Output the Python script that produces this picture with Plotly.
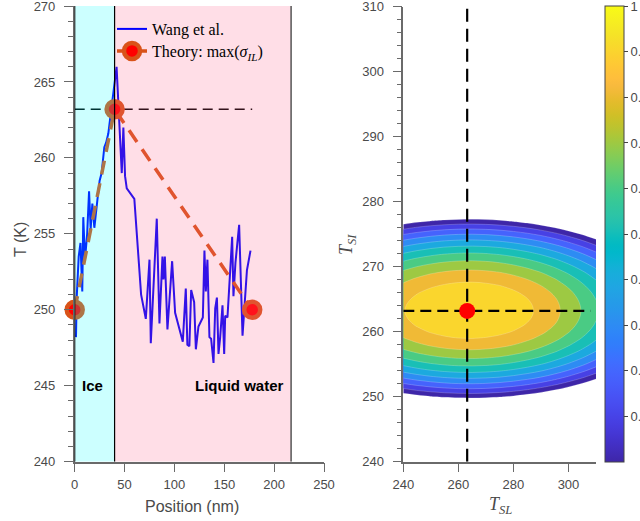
import plotly.graph_objects as go

# ---------------- data: left panel (temperature profile) ----------------
wang_pos = [1.3, 2.0, 4.0, 5.8, 7.6, 8.6, 10.3, 12.5, 14.4, 16.0, 17.7, 19.7, 22.7, 25.0,
            27.0, 29.7, 31.5, 33.7, 35.4, 37.7, 39.5, 42.0, 47.2, 48.8, 50.5, 52.2, 59.8,
            66.6, 71.3, 75.0, 76.3, 82.3, 85.0, 88.0, 89.0, 90.4, 93.0, 97.7, 100.7, 108.4,
            111.4, 113.0, 115.0, 116.8, 119.8, 121.5, 124.1, 128.5, 130.1, 131.5, 133.1,
            135.1, 136.8, 139.2, 140.9, 142.6, 144.2, 145.9, 148.2, 149.9, 150.9, 153.2,
            157.9, 159.2, 161.2, 164.9, 168.3, 172.7, 176.3]
wang_T = [248.2, 250.8, 253.5, 254.4, 251.2, 256.1, 253.3, 255.0, 257.8, 255.3, 257.0, 255.4,
          257.2, 258.5, 259.0, 260.7, 261.0, 261.6, 262.5, 263.6, 264.5, 266.0, 259.0, 262.0,
          258.8, 258.0, 257.3, 251.0, 249.4, 253.3, 247.8, 256.0, 249.1, 253.5, 252.0, 253.5,
          248.7, 253.2, 249.8, 247.9, 251.4, 247.7, 247.6, 251.3, 250.5, 247.4, 248.9, 249.5,
          253.9, 251.2, 253.3, 248.2, 248.1, 246.5, 250.1, 250.8, 247.1, 248.2, 250.3, 247.1,
          249.6, 249.5, 254.8, 250.9, 253.1, 255.6, 248.3, 252.6, 253.9]
theory_pos = [0, 40, 178]
theory_T = [250, 263.2, 250]
ice_edge = 40
water_edge = 217
crit_T = 263.2
crit_line_end = 178

# ---------------- data: right panel (normalised map) ----------------
T_SL = [240, 245, 250, 255, 260, 265, 270, 275, 280, 285, 290, 295, 300, 305, 310]
prof_SL = [0.895, 0.934, 0.964, 0.985, 0.997, 1.000, 0.993, 0.978, 0.953, 0.919,
           0.877, 0.825, 0.763, 0.693, 0.614]
T_SI = list(range(248, 280))
prof_SI = [-0.287, -0.123, 0.030, 0.171, 0.301, 0.421, 0.529, 0.626, 0.711, 0.786, 0.849,
           0.902, 0.943, 0.973, 0.992, 1.000, 0.997, 0.984, 0.961, 0.927, 0.884, 0.831,
           0.767, 0.694, 0.610, 0.517, 0.413, 0.300, 0.176, 0.042, -0.102, -0.256]
opt_SL = 263.2
opt_SI = 263.2
hline_end = 308
cbar_ticks = [0.1, 0.2, 0.3, 0.4, 0.5, 0.6, 0.7, 0.8, 0.9, 1.0]
cbar_labels = ["0.1", "0.2", "0.3", "0.4", "0.5", "0.6", "0.7", "0.8", "0.9", "1"]

# ---------------- styles ----------------
PARULA = [
    (0.2422, 0.1504, 0.6603), (0.2504, 0.1650, 0.7076), (0.2578, 0.1818, 0.7511), (0.2647, 0.1978, 0.7952),
    (0.2706, 0.2147, 0.8364), (0.2751, 0.2342, 0.8710), (0.2783, 0.2559, 0.8991), (0.2803, 0.2782, 0.9221),
    (0.2813, 0.3006, 0.9414), (0.2810, 0.3228, 0.9579), (0.2795, 0.3447, 0.9717), (0.2760, 0.3667, 0.9829),
    (0.2699, 0.3892, 0.9906), (0.2602, 0.4123, 0.9952), (0.2440, 0.4358, 0.9988), (0.2206, 0.4603, 0.9973),
    (0.1963, 0.4847, 0.9892), (0.1834, 0.5074, 0.9798), (0.1786, 0.5289, 0.9682), (0.1764, 0.5499, 0.9520),
    (0.1687, 0.5703, 0.9359), (0.1540, 0.5902, 0.9218), (0.1460, 0.6091, 0.9079), (0.1380, 0.6276, 0.8973),
    (0.1248, 0.6459, 0.8883), (0.1113, 0.6635, 0.8763), (0.0952, 0.6798, 0.8598), (0.0689, 0.6948, 0.8394),
    (0.0297, 0.7082, 0.8163), (0.0036, 0.7203, 0.7917), (0.0067, 0.7312, 0.7660), (0.0433, 0.7411, 0.7394),
    (0.0964, 0.7500, 0.7120), (0.1408, 0.7584, 0.6842), (0.1717, 0.7670, 0.6554), (0.1938, 0.7758, 0.6251),
    (0.2161, 0.7843, 0.5923), (0.2470, 0.7918, 0.5567), (0.2906, 0.7973, 0.5188), (0.3406, 0.8008, 0.4789),
    (0.3909, 0.8029, 0.4354), (0.4456, 0.8024, 0.3909), (0.5044, 0.7993, 0.3480), (0.5616, 0.7942, 0.3045),
    (0.6174, 0.7876, 0.2612), (0.6720, 0.7793, 0.2227), (0.7242, 0.7698, 0.1910), (0.7738, 0.7598, 0.1646),
    (0.8203, 0.7498, 0.1535), (0.8634, 0.7406, 0.1596), (0.9035, 0.7330, 0.1774), (0.9393, 0.7288, 0.2100),
    (0.9728, 0.7298, 0.2394), (0.9956, 0.7434, 0.2371), (0.9970, 0.7659, 0.2199), (0.9952, 0.7893, 0.2028),
    (0.9892, 0.8136, 0.1885), (0.9786, 0.8386, 0.1766), (0.9676, 0.8639, 0.1643), (0.9610, 0.8890, 0.1537),
    (0.9597, 0.9135, 0.1423), (0.9628, 0.9373, 0.1265), (0.9691, 0.9606, 0.1064), (0.9769, 0.9839, 0.0805)]


def rgb(c):
    return "rgb(%d,%d,%d)" % tuple(round(v * 255) for v in c)


n = len(PARULA)
parula_scale = [[round(i / (n - 1), 6), rgb(c)] for i, c in enumerate(PARULA)]


def parula_at(v):
    return rgb(PARULA[min(n - 1, int(v * n + 1e-9))])


# band colours (each band coloured by its lower level, MATLAB style)
levels = [0.0, 0.1, 0.2, 0.3, 0.4, 0.5, 0.6, 0.7, 0.8, 0.9]
band_scale = [[0.0, "white"], [0.05, "white"]]
for k, lv in enumerate(levels):
    lo = round(0.05 + 0.1 * k, 4)
    hi = round(min(1.0, 0.15 + 0.1 * k), 4)
    band_scale.append([lo, parula_at(lv)])
    band_scale.append([hi, parula_at(lv)])

AX = "#6a6a6a"
TXT = "#4a4a4a"
SANS = "Liberation Sans, Arial, sans-serif"
SERIF = "Liberation Serif, Times New Roman, serif"
ORANGE = "rgb(217,83,25)"

z = [[a + b - 1 for a in prof_SL] for b in prof_SI]

fig = go.Figure()

# ---- left panel ----
fig.add_trace(go.Scatter(x=[0, crit_line_end], y=[crit_T, crit_T], mode="lines",
                         line=dict(color="black", width=1.6, dash="10px,6px"),
                         showlegend=False, hoverinfo="skip", xaxis="x", yaxis="y"))
fig.add_trace(go.Scatter(x=wang_pos, y=wang_T, mode="lines", name="Wang et al.",
                         line=dict(color="rgb(0,0,255)", width=2), legend="legend",
                         xaxis="x", yaxis="y"))
fig.add_trace(go.Scatter(x=theory_pos, y=theory_T, mode="lines+markers",
                         name="Theory: max(<i>σ</i><sub><i>IL</i></sub>)",
                         line=dict(color=ORANGE, width=3.5, dash="14px,9px"),
                         marker=dict(size=16, color="rgb(255,0,0)",
                                     line=dict(color=ORANGE, width=4.5)),
                         legend="legend2",
                         cliponaxis=False, xaxis="x", yaxis="y"))

# ---- right panel ----
fig.add_trace(go.Contour(x=T_SL, y=T_SI, z=z, autocontour=False,
                         contours=dict(start=0, end=0.9, size=0.1, coloring="fill"),
                         colorscale=band_scale, showscale=False,
                         line=dict(color="rgba(255,255,255,0.35)", width=0.6),
                         hoverinfo="skip", xaxis="x2", yaxis="y2"))
fig.add_trace(go.Scatter(x=[opt_SL, opt_SL], y=[240, 310], mode="lines",
                         line=dict(color="black", width=2.2, dash="13px,7px"),
                         showlegend=False, hoverinfo="skip", xaxis="x2", yaxis="y2"))
fig.add_trace(go.Scatter(x=[240, hline_end], y=[opt_SI, opt_SI], mode="lines",
                         line=dict(color="black", width=2.2, dash="11px,6px"),
                         showlegend=False, hoverinfo="skip", xaxis="x2", yaxis="y2"))
fig.add_trace(go.Scatter(x=[opt_SL], y=[opt_SI], mode="markers",
                         marker=dict(size=16, color="rgb(255,0,0)"),
                         showlegend=False, hoverinfo="skip", xaxis="x2", yaxis="y2"))
# colour bar carrier (invisible points)
fig.add_trace(go.Scatter(x=[opt_SL, opt_SL], y=[opt_SI, opt_SI], mode="markers",
                         marker=dict(size=1, opacity=0, color=[0, 1], cmin=0, cmax=1.001,
                                     colorscale=parula_scale, showscale=True,
                                     colorbar=dict(thickness=19, thicknessmode="pixels",
                                                   len=455.7, lenmode="pixels",
                                                   x=605 / 640, xanchor="left", xpad=0,
                                                   y=(521 - 233.85) / 521, yanchor="middle", ypad=0,
                                                   outlinewidth=1, outlinecolor="#444",
                                                   tickvals=cbar_ticks, ticktext=cbar_labels,
                                                   ticks="outside",
                                                   ticklen=4, tickcolor="#444",
                                                   ticklabeloverflow="allow",
                                                   tickfont=dict(family=SANS, size=13, color=TXT))),
                         showlegend=False, hoverinfo="skip", xaxis="x2", yaxis="y2"))

# ---- region shading on the left panel ----
shapes = [
    dict(type="rect", xref="x", yref="y", x0=0, x1=ice_edge, y0=240, y1=270,
         fillcolor="rgba(0,255,255,0.2)", line=dict(width=0), layer="above"),
    dict(type="rect", xref="x", yref="y", x0=ice_edge, x1=water_edge, y0=240, y1=270,
         fillcolor="rgba(255,90,135,0.2)", line=dict(width=0), layer="above"),
    dict(type="line", xref="x", yref="y", x0=0, x1=0, y0=240, y1=270,
         line=dict(color="black", width=1.2), layer="above"),
    dict(type="line", xref="x", yref="y", x0=ice_edge, x1=ice_edge, y0=240, y1=270,
         line=dict(color="black", width=1.2), layer="above"),
    dict(type="line", xref="x", yref="y", x0=water_edge, x1=water_edge, y0=240, y1=270,
         line=dict(color="#555555", width=1.5), layer="above"),
]

axis_common = dict(showline=True, linecolor=AX, linewidth=1.5, ticks="outside", ticklen=9,
                   tickwidth=1.3, tickcolor=AX, showgrid=False, zeroline=False,
                   ticklabeloverflow="allow",
                   tickfont=dict(family=SANS, size=13, color=TXT))

annotations = [
    dict(text="<b>Ice</b>", x=5, y=245, xref="x", yref="y", xanchor="left", yanchor="middle",
         showarrow=False, font=dict(family=SANS, size=15, color="black")),
    dict(text="<b>Liquid water</b>", x=212, y=245, xref="x", yref="y", xanchor="right",
         yanchor="middle", showarrow=False, font=dict(family=SANS, size=15, color="black")),
    dict(text="T (K)", x=20 / 640, y=(521 - 240) / 521, xref="paper", yref="paper",
         xanchor="center", yanchor="middle",
         textangle=-90, showarrow=False, font=dict(family=SANS, size=16, color=TXT)),
    dict(text="Position (nm)", x=192 / 640, y=(521 - 506) / 521, xref="paper", yref="paper",
         xanchor="center", yanchor="middle",
         showarrow=False, font=dict(family=SANS, size=16, color=TXT)),
    dict(text="<i>T</i><sub><i>SL</i></sub>", x=500 / 640, y=(521 - 505) / 521, xref="paper",
         yref="paper", xanchor="center", yanchor="middle",
         showarrow=False, font=dict(family=SERIF, size=18, color=TXT)),
    dict(text="<i>T</i><sub><i>SI</i></sub>", x=348 / 640, y=(521 - 245) / 521, xref="paper",
         yref="paper", xanchor="center", yanchor="middle",
         textangle=-90, showarrow=False, font=dict(family=SERIF, size=18, color=TXT)),
]

legend_common = dict(xanchor="left", yanchor="middle", bgcolor="rgba(0,0,0,0)", borderwidth=0,
                     font=dict(family=SERIF, size=16, color="black"))

fig.update_layout(
    width=640, height=521,
    margin=dict(l=0, r=0, t=0, b=0, autoexpand=False),
    paper_bgcolor="white", plot_bgcolor="white",
    xaxis=dict(domain=[74.7 / 640, 324 / 640], range=[0, 250], tick0=0, dtick=50,
               anchor="y", ticklabelstandoff=1, **axis_common),
    yaxis=dict(domain=[(521 - 461.7) / 521, (521 - 6) / 521], range=[240, 270], tick0=240, dtick=5,
               anchor="x", ticklabelstandoff=6,
               minor=dict(dtick=1, ticklen=5, ticks="outside", tickcolor=AX, showgrid=False),
               **axis_common),
    xaxis2=dict(domain=[403.3 / 640, 596 / 640], range=[240, 310], tick0=240, dtick=20,
                anchor="y2", ticklabelstandoff=1, **axis_common),
    yaxis2=dict(domain=[(521 - 461.7) / 521, (521 - 6.7) / 521], range=[240, 310], tick0=240, dtick=10,
                anchor="x2", ticklabelstandoff=6,
                minor=dict(dtick=2, ticklen=5, ticks="outside", tickcolor=AX, showgrid=False),
                **axis_common),
    shapes=shapes,
    annotations=annotations,
    showlegend=True,
    legend=dict(x=112 / 640, y=(521 - 29) / 521, **legend_common),
    legend2=dict(x=112 / 640, y=(521 - 51) / 521, **legend_common),
)

fig.write_html("out.html", config={"displayModeBar": False},
               post_script="document.body.style.margin='0';document.body.style.overflow='hidden';")
